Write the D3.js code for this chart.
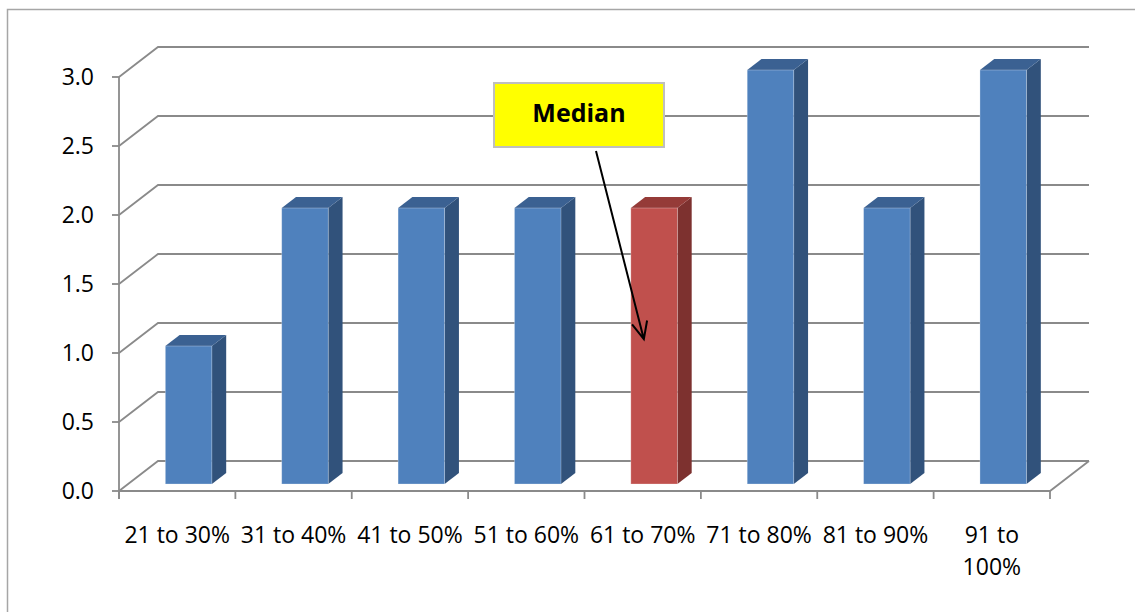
<!DOCTYPE html>
<html lang="en">
<head>
<meta charset="UTF-8">
<title>Distribution by score range</title>
<script src="https://d3js.org/d3.v7.min.js"></script>
<style>
    body { margin: 0; background: #fff; }
    svg { display: block; font-family: "Open Sans", "Liberation Sans", sans-serif; }
    .grid { stroke: #8a8a8a; stroke-width: 1.8; fill: none; }
    .tick-label { font-size: 23px; fill: #000; }
</style>
</head>
<body>
<svg width="1135" height="612"></svg>
<script>
    // data
    const categories = ["21 to 30%", "31 to 40%", "41 to 50%", "51 to 60%",
                        "61 to 70%", "71 to 80%", "81 to 90%", "91 to 100%"];
    const values = [1, 2, 2, 2, 2, 3, 2, 3];
    const yTicks = [0, 0.5, 1, 1.5, 2, 2.5, 3];
    const medianCategory = "61 to 70%";
    const annotation = {label: "Median", category: "61 to 70%", value: 1.1};

    const svg = d3.select("svg");

    // outer chart border
    svg.append("path")
        .attr("d", "M7.5,612 V9.5 H1135")
        .attr("fill", "none")
        .attr("stroke", "#a6a6a6")
        .attr("stroke-width", 1.5);

    // 3d depth vector
    const depth = {dx: 39, dy: -30};
    const f1 = 0.233, f2 = 0.6;   // bar front / back depth fractions

    const x = d3.scaleBand().domain(categories).range([119, 1050]);
    const y = d3.scaleLinear().domain([0, 3]).range([491, 77]);
    const bw = x.bandwidth();

    // back wall gridlines + left diagonals
    const grid = svg.append("g");
    yTicks.forEach(t => {
        grid.append("path").attr("class", "grid")
            .attr("d", `M${x.range()[0]},${y(t)} l${depth.dx},${depth.dy} H${x.range()[1] + depth.dx}`);
    });
    // floor
    grid.append("path").attr("class", "grid")
        .attr("d", `M${x.range()[0]},${y(0)} H${x.range()[1]} l${depth.dx},${depth.dy}`);

    // axes
    const yAxis = svg.append("g");
    yAxis.append("line").attr("class", "grid")
        .attr("x1", 119).attr("x2", 119).attr("y1", y(3)).attr("y2", y(0) + 8);
    yAxis.selectAll(".yt").data(yTicks).enter().append("line").attr("class", "grid")
        .attr("x1", 112).attr("x2", 119).attr("y1", d => y(d)).attr("y2", d => y(d));
    yAxis.selectAll(".yl").data(yTicks).enter().append("text")
        .attr("class", "tick-label")
        .attr("x", 94).attr("y", d => y(d) + 8)
        .attr("text-anchor", "end")
        .text(d => d.toFixed(1));

    const xTickPos = categories.map(c => x(c)).concat([x.range()[1]]);
    svg.append("g").selectAll("line").data(xTickPos).enter().append("line")
        .attr("class", "grid")
        .attr("x1", d => d).attr("x2", d => d)
        .attr("y1", y(0)).attr("y2", y(0) + 8);

    const xl = svg.append("g").selectAll("text").data(categories).enter().append("text")
        .attr("class", "tick-label")
        .attr("text-anchor", "middle")
        .attr("x", d => x(d) + bw / 2)
        .attr("y", 543)
        .text(d => d);
    // wrap labels that are too wide for their band
    xl.each(function(d) {
        const t = d3.select(this);
        if (this.getComputedTextLength() > bw * 0.95) {
            const i = d.lastIndexOf(" ");
            t.text(null);
            t.append("tspan").attr("x", x(d) + bw / 2).text(d.slice(0, i));
            t.append("tspan").attr("x", x(d) + bw / 2).attr("dy", 32).text(d.slice(i + 1));
        }
    });

    // bars
    const colors = {
        blue: {front: "#4f81bd", side: "#31527b", top: "#3b6192"},
        red: {front: "#c0504d", side: "#7d312f", top: "#953b38"}
    };
    const barW = bw * 0.4;
    const bars = svg.append("g");
    categories.forEach((c, i) => {
        const col = c === medianCategory ? colors.red : colors.blue;
        const x0 = x(c) + bw * 0.32 + depth.dx * f1;
        const yb = y(0) + depth.dy * f1;
        const yt = y(values[i]) + depth.dy * f1;
        const ddx = depth.dx * (f2 - f1), ddy = depth.dy * (f2 - f1);
        bars.append("path").attr("fill", col.side)
            .attr("d", `M${x0 + barW},${yb} V${yt} l${ddx},${ddy} V${yb + ddy} Z`);
        bars.append("path").attr("fill", col.top)
            .attr("d", `M${x0},${yt} H${x0 + barW} l${ddx},${ddy} H${x0 + ddx} Z`);
        bars.append("rect").attr("fill", col.front)
            .attr("x", x0).attr("y", yt).attr("width", barW).attr("height", yb - yt)
            .attr("stroke", "rgba(255,255,255,0.35)").attr("stroke-width", 0.8);
    });

    // median annotation
    const box = {x: 494, y: 83, w: 170, h: 64};
    const ann = svg.append("g");
    ann.append("rect")
        .attr("x", box.x).attr("y", box.y).attr("width", box.w).attr("height", box.h)
        .attr("fill", "#ffff00").attr("stroke", "#bfbfbf").attr("stroke-width", 2);
    ann.append("text")
        .attr("x", box.x + box.w / 2).attr("y", box.y + 39)
        .attr("text-anchor", "middle")
        .attr("font-size", 25).attr("font-weight", "bold")
        .text(annotation.label);

    const tip = [x(annotation.category) + bw * 0.51, y(annotation.value)];
    const start = [596, 151];
    const ang = Math.atan2(tip[1] - start[1], tip[0] - start[0]);
    const head = 19, spread = 0.42;
    ann.append("path")
        .attr("fill", "none").attr("stroke", "#000").attr("stroke-width", 2)
        .attr("d", `M${start[0]},${start[1]} L${tip[0]},${tip[1]}
            M${tip[0] - head * Math.cos(ang - spread)},${tip[1] - head * Math.sin(ang - spread)}
            L${tip[0]},${tip[1]}
            L${tip[0] - head * Math.cos(ang + spread)},${tip[1] - head * Math.sin(ang + spread)}`);
</script>
</body>
</html>
